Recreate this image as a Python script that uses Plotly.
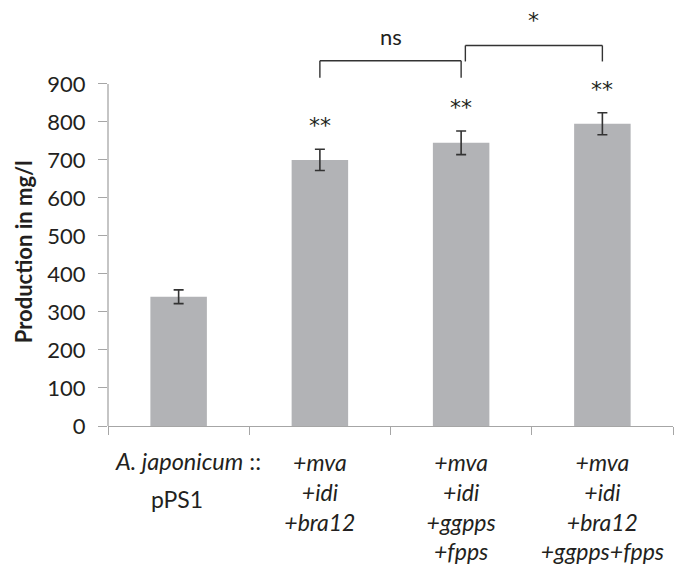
import plotly.graph_objects as go

# ---- data ----
categories = [
    "pPS1",
    "<i>+mva</i><br><i>+idi</i><br><i>+bra12</i>",
    "<i>+mva</i><br><i>+idi</i><br><i>+ggpps</i><br><i>+fpps</i>",
    "<i>+mva</i><br><i>+idi</i><br><i>+bra12</i><br><i>+ggpps+fpps</i>",
]
production = [340, 700, 745, 795]
errors = [18, 28, 31, 29]
significance = ["", "**", "**", "**"]
strain_prefix = "<i>A. japonicum</i> ::"
y_ticks = [0, 100, 200, 300, 400, 500, 600, 700, 800, 900]
comparisons = [(1, 2, "ns"), (2, 3, "*")]

FONT = "Lato"
STAR_FONT = "DejaVu Sans"
BAR_COLOR = "#b2b3b6"
AXIS_COLOR = "#a6a6a6"
TEXT_COLOR = "#231f20"

fig = go.Figure()
fig.add_trace(go.Bar(
    x=categories, y=production, width=0.4,
    marker=dict(color=BAR_COLOR, line=dict(width=0)),
    error_y=dict(type="data", array=errors, color="#333333", thickness=1.6, width=5),
    showlegend=False,
))

annotations = []
# significance stars above bars
for i, s in enumerate(significance):
    if s:
        annotations.append(dict(
            x=i, y=production[i] + errors[i] + 62, xref="x", yref="y",
            text=s, showarrow=False, yanchor="middle",
            font=dict(family=STAR_FONT, size=22, color=TEXT_COLOR),
        ))

shapes = []
# y axis line only up to 900
shapes.append(dict(type="line", xref="x domain", yref="y", x0=0, x1=0,
                   y0=0, y1=max(y_ticks), line=dict(color=AXIS_COLOR, width=1.3)))

# brackets
levels = [(916, 961, 1025), (959, 1001, 1066)]
offsets = [(0.0, 0.0), (0.03, 0.0)]
for (a, b, label), (yl, yt, ylab), (oa, ob) in zip(comparisons, levels, offsets):
    xa, xb = a + oa, b + ob
    line = dict(color="#333333", width=1.4)
    shapes.append(dict(type="line", xref="x", yref="y", x0=xa, x1=xa, y0=yl, y1=yt, line=line))
    shapes.append(dict(type="line", xref="x", yref="y", x0=xa, x1=xb, y0=yt, y1=yt, line=line))
    shapes.append(dict(type="line", xref="x", yref="y", x0=xb, x1=xb, y0=yl, y1=yt, line=line))
    if label == "ns":
        f = dict(family=FONT, size=22, color=TEXT_COLOR)
    else:
        f = dict(family=STAR_FONT, size=22, color=TEXT_COLOR)
    annotations.append(dict(
        x=(xa + xb) / 2, y=ylab, xref="x", yref="y", text=label, showarrow=False,
        yanchor="middle", font=f,
    ))

# first category label: strain prefix and plasmid
annotations.append(dict(
    x=0.065, y=-0.085, xref="x", yref="paper", text=strain_prefix, showarrow=False,
    yanchor="middle", font=dict(family=FONT, size=23.5, color=TEXT_COLOR),
))
annotations.append(dict(
    x=-0.01, y=-0.175, xref="x", yref="paper", text=categories[0], showarrow=False,
    yanchor="middle", font=dict(family=FONT, size=23, color=TEXT_COLOR),
))
# y-axis title
annotations.append(dict(
    x=-0.148, y=458, xref="paper", yref="y", text="<b>Production in mg/l</b>",
    textangle=-90, showarrow=False, xanchor="center", yanchor="middle",
    font=dict(family=FONT, size=22, color=TEXT_COLOR),
))

fig.update_layout(
    width=679, height=566,
    margin=dict(l=108, r=6, t=9, b=140, autoexpand=False),
    paper_bgcolor="white", plot_bgcolor="white",
    font=dict(family=FONT, size=23, color=TEXT_COLOR),
    shapes=shapes, annotations=annotations,
    xaxis=dict(
        type="category", showline=True, linecolor=AXIS_COLOR, linewidth=1.3,
        ticks="outside", tickson="boundaries", ticklen=8, tickcolor=AXIS_COLOR, tickwidth=1.3,
        ticklabelstandoff=16, showgrid=False, zeroline=False,
        tickvals=categories, ticktext=[""] + categories[1:],
        tickfont=dict(family=FONT, size=23, color=TEXT_COLOR),
    ),
    yaxis=dict(
        range=[0, 1097], tickvals=y_ticks, ticktext=[str(v) for v in y_ticks],
        showline=False, ticks="outside", ticklen=9, tickcolor=AXIS_COLOR, tickwidth=1.3,
        ticklabelstandoff=8, showgrid=False, zeroline=False,
        tickfont=dict(family=FONT, size=22, color=TEXT_COLOR),
    ),
)

fig.write_html("out.html", config={"displayModeBar": False},
               post_script="document.body.style.margin='0';")
